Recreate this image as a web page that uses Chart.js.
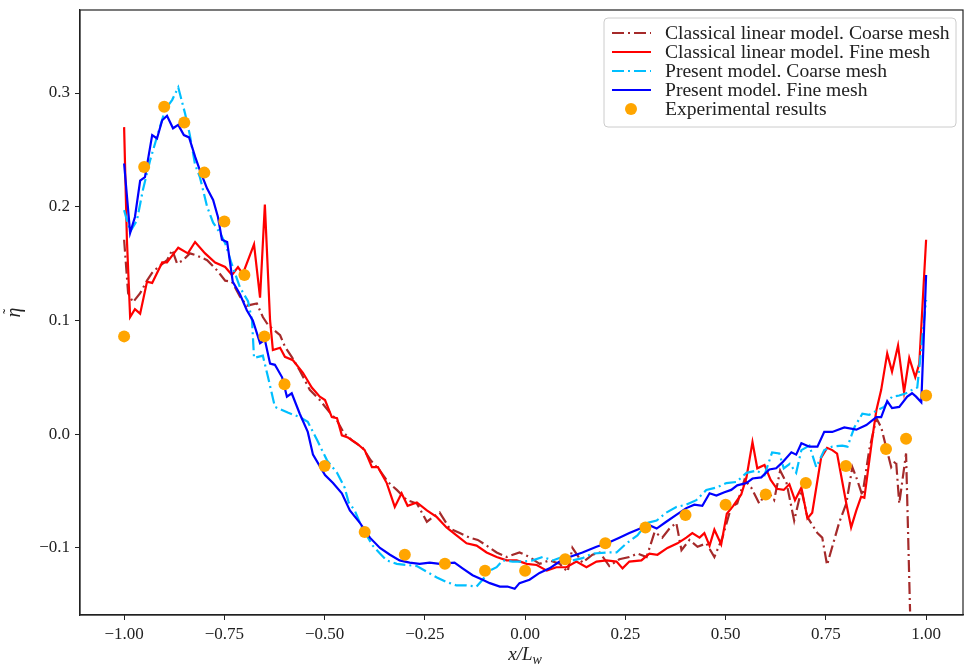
<!DOCTYPE html>
<html>
<head>
<meta charset="utf-8">
<script src="https://cdn.jsdelivr.net/npm/chart.js@4.4.1/dist/chart.umd.min.js"></script>
<style>
  body { margin: 0; background: #fff; }
  canvas { display: block; }
</style>
</head>
<body>
<canvas id="etaChart" width="964" height="667"></canvas>
<script>
// tick positions
const xTicks = [-1.0, -0.75, -0.5, -0.25, 0.0, 0.25, 0.5, 0.75, 1.0];
const yTicks = [-0.1, 0.0, 0.1, 0.2, 0.3];

const seriesLabels = [
    'Classical linear model. Coarse mesh',
    'Classical linear model. Fine mesh',
    'Present model. Coarse mesh',
    'Present model. Fine mesh',
    'Experimental results'
];

// classical linear model, coarse mesh
const xClassCoarse = [-1.000, -0.990, -0.978, -0.960, -0.943, -0.930, -0.915, -0.893, -0.880, -0.868, -0.853, -0.836, -0.818, -0.793, -0.768, -0.748, -0.731, -0.711, -0.694, -0.669, -0.654, -0.641, -0.611, -0.599, -0.582, -0.562, -0.537, -0.512, -0.487, -0.469, -0.452, -0.430, -0.405, -0.385, -0.362, -0.342, -0.320, -0.295, -0.270, -0.245, -0.230, -0.213, -0.188, -0.163, -0.138, -0.118, -0.096, -0.071, -0.046, -0.014, 0.011, 0.036, 0.061, 0.086, 0.106, 0.118, 0.143, 0.168, 0.186, 0.210, 0.235, 0.260, 0.280, 0.303, 0.323, 0.342, 0.360, 0.377, 0.390, 0.410, 0.430, 0.452, 0.472, 0.492, 0.514, 0.529, 0.547, 0.564, 0.584, 0.604, 0.621, 0.636, 0.652, 0.671, 0.689, 0.704, 0.729, 0.741, 0.753, 0.766, 0.783, 0.801, 0.816, 0.828, 0.841, 0.858, 0.876, 0.888, 0.900, 0.913, 0.925, 0.933, 0.940, 0.950, 0.960];
const yClassCoarse = [0.171, 0.124, 0.116, 0.124, 0.135, 0.142, 0.147, 0.153, 0.162, 0.150, 0.153, 0.159, 0.157, 0.153, 0.144, 0.135, 0.134, 0.121, 0.113, 0.115, 0.103, 0.096, 0.087, 0.077, 0.068, 0.056, 0.039, 0.030, 0.019, 0.012, 0.001, -0.006, -0.012, -0.023, -0.032, -0.042, -0.049, -0.058, -0.061, -0.077, -0.073, -0.069, -0.083, -0.087, -0.091, -0.093, -0.098, -0.104, -0.108, -0.104, -0.108, -0.114, -0.111, -0.114, -0.121, -0.100, -0.113, -0.106, -0.104, -0.116, -0.110, -0.108, -0.105, -0.108, -0.086, -0.091, -0.083, -0.078, -0.102, -0.093, -0.099, -0.096, -0.108, -0.091, -0.064, -0.061, -0.040, -0.047, -0.061, -0.050, -0.058, -0.032, -0.043, -0.076, -0.049, -0.073, -0.087, -0.091, -0.115, -0.099, -0.078, -0.061, -0.029, -0.040, -0.054, -0.014, 0.014, 0.006, -0.011, -0.029, -0.023, -0.061, -0.043, -0.017, -0.156];

// classical linear model, fine mesh
const xClassFine = [-1.000, -0.993, -0.985, -0.973, -0.960, -0.943, -0.930, -0.905, -0.893, -0.865, -0.841, -0.823, -0.798, -0.773, -0.748, -0.731, -0.716, -0.704, -0.676, -0.661, -0.649, -0.636, -0.629, -0.611, -0.599, -0.579, -0.554, -0.532, -0.512, -0.499, -0.482, -0.469, -0.457, -0.442, -0.420, -0.400, -0.382, -0.367, -0.345, -0.325, -0.308, -0.293, -0.270, -0.245, -0.220, -0.196, -0.171, -0.146, -0.121, -0.096, -0.071, -0.046, -0.021, 0.004, 0.029, 0.054, 0.078, 0.103, 0.128, 0.153, 0.178, 0.203, 0.228, 0.243, 0.260, 0.290, 0.310, 0.330, 0.355, 0.380, 0.402, 0.417, 0.435, 0.447, 0.460, 0.472, 0.489, 0.503, 0.519, 0.539, 0.552, 0.567, 0.579, 0.597, 0.612, 0.628, 0.645, 0.659, 0.673, 0.689, 0.704, 0.716, 0.738, 0.753, 0.766, 0.778, 0.801, 0.813, 0.826, 0.838, 0.846, 0.866, 0.876, 0.888, 0.903, 0.915, 0.930, 0.945, 0.958, 0.973, 0.983, 1.000];
const yClassFine = [0.270, 0.171, 0.103, 0.110, 0.106, 0.134, 0.133, 0.151, 0.151, 0.164, 0.159, 0.169, 0.159, 0.151, 0.147, 0.140, 0.147, 0.141, 0.167, 0.120, 0.202, 0.100, 0.074, 0.076, 0.068, 0.065, 0.054, 0.041, 0.033, 0.030, 0.015, 0.014, -0.001, -0.003, -0.008, -0.014, -0.029, -0.029, -0.043, -0.064, -0.052, -0.063, -0.060, -0.067, -0.073, -0.082, -0.089, -0.096, -0.098, -0.104, -0.108, -0.111, -0.111, -0.114, -0.115, -0.120, -0.117, -0.117, -0.112, -0.117, -0.112, -0.111, -0.112, -0.118, -0.112, -0.111, -0.105, -0.106, -0.100, -0.096, -0.091, -0.087, -0.091, -0.087, -0.098, -0.084, -0.097, -0.070, -0.063, -0.053, -0.038, -0.007, -0.030, -0.027, -0.040, -0.048, -0.049, -0.044, -0.058, -0.047, -0.074, -0.069, -0.021, -0.012, -0.014, -0.017, -0.061, -0.082, -0.067, -0.055, -0.056, -0.003, 0.021, 0.039, 0.071, 0.055, 0.078, 0.037, 0.067, 0.050, 0.062, 0.171];

// present model, coarse mesh
const xPresCoarse = [-1.000, -0.985, -0.968, -0.953, -0.935, -0.915, -0.898, -0.880, -0.865, -0.848, -0.836, -0.823, -0.811, -0.793, -0.778, -0.761, -0.748, -0.731, -0.711, -0.691, -0.681, -0.676, -0.654, -0.641, -0.624, -0.592, -0.562, -0.542, -0.519, -0.494, -0.469, -0.450, -0.440, -0.425, -0.407, -0.395, -0.380, -0.362, -0.345, -0.320, -0.295, -0.270, -0.245, -0.220, -0.196, -0.171, -0.146, -0.121, -0.106, -0.088, -0.071, -0.056, -0.031, -0.006, 0.019, 0.044, 0.069, 0.093, 0.118, 0.143, 0.168, 0.203, 0.228, 0.253, 0.280, 0.305, 0.328, 0.352, 0.377, 0.402, 0.427, 0.452, 0.477, 0.502, 0.527, 0.552, 0.577, 0.597, 0.616, 0.634, 0.645, 0.660, 0.676, 0.689, 0.709, 0.726, 0.746, 0.766, 0.791, 0.804, 0.821, 0.841, 0.858, 0.878, 0.895, 0.915, 0.933, 0.950, 0.970, 0.978, 1.000];
const yPresCoarse = [0.197, 0.178, 0.188, 0.215, 0.241, 0.265, 0.285, 0.294, 0.305, 0.282, 0.263, 0.237, 0.226, 0.200, 0.186, 0.177, 0.168, 0.149, 0.129, 0.117, 0.100, 0.067, 0.069, 0.050, 0.024, 0.019, 0.015, 0.011, -0.005, -0.023, -0.034, -0.047, -0.060, -0.067, -0.082, -0.089, -0.098, -0.105, -0.111, -0.114, -0.115, -0.116, -0.121, -0.126, -0.130, -0.133, -0.133, -0.134, -0.128, -0.120, -0.117, -0.111, -0.112, -0.112, -0.111, -0.108, -0.111, -0.108, -0.111, -0.109, -0.105, -0.104, -0.104, -0.096, -0.089, -0.078, -0.076, -0.069, -0.064, -0.062, -0.058, -0.049, -0.047, -0.043, -0.042, -0.034, -0.032, -0.036, -0.016, -0.017, -0.030, -0.026, -0.034, -0.014, -0.010, -0.029, -0.014, -0.011, -0.010, -0.011, 0.006, 0.018, 0.017, 0.021, 0.024, 0.033, 0.034, 0.036, 0.040, 0.041, 0.118];

// present model, fine mesh
const xPresFine = [-1.000, -0.985, -0.973, -0.960, -0.948, -0.930, -0.918, -0.905, -0.893, -0.878, -0.865, -0.851, -0.838, -0.823, -0.811, -0.793, -0.778, -0.766, -0.756, -0.743, -0.729, -0.711, -0.694, -0.679, -0.661, -0.649, -0.636, -0.624, -0.606, -0.594, -0.582, -0.562, -0.542, -0.529, -0.499, -0.479, -0.457, -0.437, -0.412, -0.387, -0.362, -0.337, -0.313, -0.288, -0.263, -0.238, -0.213, -0.176, -0.156, -0.131, -0.106, -0.088, -0.063, -0.044, -0.026, -0.014, 0.011, 0.036, 0.061, 0.086, 0.111, 0.143, 0.178, 0.210, 0.235, 0.260, 0.293, 0.310, 0.328, 0.352, 0.377, 0.402, 0.422, 0.442, 0.460, 0.477, 0.497, 0.514, 0.529, 0.552, 0.567, 0.589, 0.609, 0.626, 0.641, 0.664, 0.676, 0.689, 0.709, 0.729, 0.746, 0.766, 0.796, 0.826, 0.851, 0.876, 0.888, 0.903, 0.915, 0.933, 0.953, 0.965, 0.975, 0.988, 1.000];
const yPresFine = [0.238, 0.177, 0.191, 0.223, 0.226, 0.263, 0.260, 0.276, 0.280, 0.269, 0.272, 0.263, 0.261, 0.244, 0.232, 0.216, 0.206, 0.191, 0.171, 0.169, 0.134, 0.123, 0.109, 0.100, 0.080, 0.083, 0.062, 0.061, 0.050, 0.033, 0.036, 0.018, 0.002, -0.018, -0.036, -0.043, -0.052, -0.067, -0.078, -0.091, -0.100, -0.106, -0.111, -0.113, -0.114, -0.113, -0.114, -0.113, -0.118, -0.124, -0.128, -0.131, -0.134, -0.134, -0.136, -0.131, -0.128, -0.122, -0.118, -0.112, -0.108, -0.104, -0.099, -0.095, -0.091, -0.087, -0.082, -0.080, -0.083, -0.077, -0.071, -0.065, -0.062, -0.063, -0.052, -0.054, -0.051, -0.049, -0.045, -0.043, -0.039, -0.038, -0.031, -0.030, -0.025, -0.016, -0.018, -0.008, -0.011, -0.011, 0.002, 0.002, 0.006, 0.004, 0.008, 0.015, 0.015, 0.029, 0.023, 0.024, 0.033, 0.036, 0.033, 0.028, 0.140];

// experimental results
const xExp = [-1.00, -0.95, -0.90, -0.85, -0.80, -0.75, -0.70, -0.65, -0.60, -0.50, -0.40, -0.30, -0.20, -0.10, 0.00, 0.10, 0.20, 0.30, 0.40, 0.50, 0.60, 0.70, 0.80, 0.90, 0.95, 1.00];
const yExp = [0.086, 0.235, 0.288, 0.274, 0.230, 0.187, 0.140, 0.086, 0.044, -0.028, -0.086, -0.106, -0.114, -0.120, -0.120, -0.110, -0.096, -0.082, -0.071, -0.062, -0.053, -0.043, -0.028, -0.013, -0.004, 0.034];

function pts(xs, ys) {
    return xs.map((x, i) => ({ x: x, y: ys[i] }));
}

const dashDot = [12, 4, 2, 4];
const serif = "'Liberation Serif', 'DejaVu Serif', serif";

function lineSet(label, xs, ys, color, dash, order) {
    return {
        label: label,
        data: pts(xs, ys),
        showLine: true,
        borderColor: color,
        backgroundColor: color,
        borderWidth: 2.2,
        borderDash: dash,
        pointRadius: 0,
        tension: 0,
        fill: false,
        order: order
    };
}

function noPad(s) {
    s.paddingLeft = 0;
    s.paddingRight = 0;
    s.paddingTop = 0;
    s.paddingBottom = 0;
}

// frame, axis titles and a matplotlib style legend
const decorations = {
    id: 'decorations',
    afterDraw(chart) {
        const ctx = chart.ctx;
        const a = chart.chartArea;
        ctx.save();
        ctx.strokeStyle = '#222';
        ctx.lineWidth = 1.2;
        ctx.strokeRect(a.left, a.top, a.right - a.left, a.bottom - a.top);

        // x title: x/L_w
        ctx.fillStyle = '#222';
        ctx.textBaseline = 'alphabetic';
        const main = 'x/L';
        ctx.font = 'italic 19px ' + serif;
        const w1 = ctx.measureText(main).width;
        ctx.font = 'italic 14px ' + serif;
        const w2 = ctx.measureText('w').width;
        const sx = chart.scales.x.getPixelForValue(0) - (w1 + w2) / 2;
        ctx.font = 'italic 19px ' + serif;
        ctx.textAlign = 'left';
        ctx.fillText(main, sx, 660);
        ctx.font = 'italic 14px ' + serif;
        ctx.fillText('w', sx + w1, 664);

        // y title: eta with a tilde, rotated
        ctx.save();
        ctx.translate(20, (a.top + a.bottom) / 2);
        ctx.rotate(-Math.PI / 2);
        ctx.textAlign = 'center';
        ctx.font = 'italic 20px ' + serif;
        ctx.fillText('\u03b7', 0, 0);
        ctx.font = '16px ' + serif;
        ctx.fillText('\u02dc', 1, -6);
        ctx.restore();

        // legend
        const lx = 604, ly = 18, lw = 352, lh = 109;
        ctx.beginPath();
        ctx.roundRect(lx, ly, lw, lh, 4);
        ctx.fillStyle = 'rgba(255,255,255,0.85)';
        ctx.fill();
        ctx.strokeStyle = '#cccccc';
        ctx.lineWidth = 1;
        ctx.stroke();
        ctx.font = '19.6px ' + serif;
        ctx.textAlign = 'left';
        ctx.textBaseline = 'middle';
        chart.data.datasets.forEach((ds, row) => {
            const cy = 33 + row * 19;
            if (ds.showLine) {
                ctx.beginPath();
                ctx.setLineDash(ds.borderDash || []);
                ctx.strokeStyle = ds.borderColor;
                ctx.lineWidth = 2.2;
                ctx.moveTo(612, cy);
                ctx.lineTo(651, cy);
                ctx.stroke();
                ctx.setLineDash([]);
            } else {
                ctx.beginPath();
                ctx.fillStyle = ds.backgroundColor;
                ctx.arc(631, cy, 6, 0, Math.PI * 2);
                ctx.fill();
            }
            ctx.fillStyle = '#222';
            ctx.fillText(ds.label, 665, cy + 1);
        });
        ctx.restore();
    }
};

new Chart(document.getElementById('etaChart'), {
    type: 'scatter',
    data: {
        datasets: [
            lineSet(seriesLabels[0], xClassCoarse, yClassCoarse, '#a52a2a', dashDot, 5),
            lineSet(seriesLabels[1], xClassFine, yClassFine, '#ff0000', [], 4),
            lineSet(seriesLabels[2], xPresCoarse, yPresCoarse, '#00bfff', dashDot, 3),
            lineSet(seriesLabels[3], xPresFine, yPresFine, '#0000ff', [], 2),
            {
                label: seriesLabels[4],
                data: pts(xExp, yExp),
                showLine: false,
                pointRadius: 6,
                pointHoverRadius: 6,
                pointBorderWidth: 0,
                backgroundColor: '#ffa500',
                borderColor: '#ffa500',
                order: 1
            }
        ]
    },
    options: {
        responsive: false,
        animation: false,
        devicePixelRatio: 1,
        layout: { autoPadding: false, padding: { left: 0, right: 1, top: 10, bottom: 0 } },
        plugins: {
            legend: { display: false },
            tooltip: { enabled: false }
        },
        scales: {
            x: {
                type: 'linear',
                min: -1.11,
                max: 1.092,
                afterFit: s => {
                    s.height = 52;
                    noPad(s);
                },
                afterBuildTicks: s => { s.ticks = xTicks.map(v => ({ value: v })); },
                ticks: {
                    color: '#222',
                    font: { family: serif, size: 17 },
                    padding: 4,
                    maxRotation: 0,
                    callback: v => v.toFixed(2).replace('-', '\u2212')
                },
                grid: { drawOnChartArea: false, drawTicks: true, tickLength: 5, tickColor: '#222' },
                border: { display: true, color: '#222', width: 1.2 }
            },
            y: {
                type: 'linear',
                min: -0.159,
                max: 0.373,
                afterFit: s => {
                    s.width = 80;
                    noPad(s);
                },
                afterBuildTicks: s => { s.ticks = yTicks.map(v => ({ value: v })); },
                ticks: {
                    color: '#222',
                    font: { family: serif, size: 17 },
                    padding: 5,
                    callback: v => v.toFixed(1).replace('-', '\u2212')
                },
                grid: { drawOnChartArea: false, drawTicks: true, tickLength: 5, tickColor: '#222' },
                border: { display: true, color: '#222', width: 1.2 }
            }
        }
    },
    plugins: [decorations]
});
</script>
</body>
</html>
